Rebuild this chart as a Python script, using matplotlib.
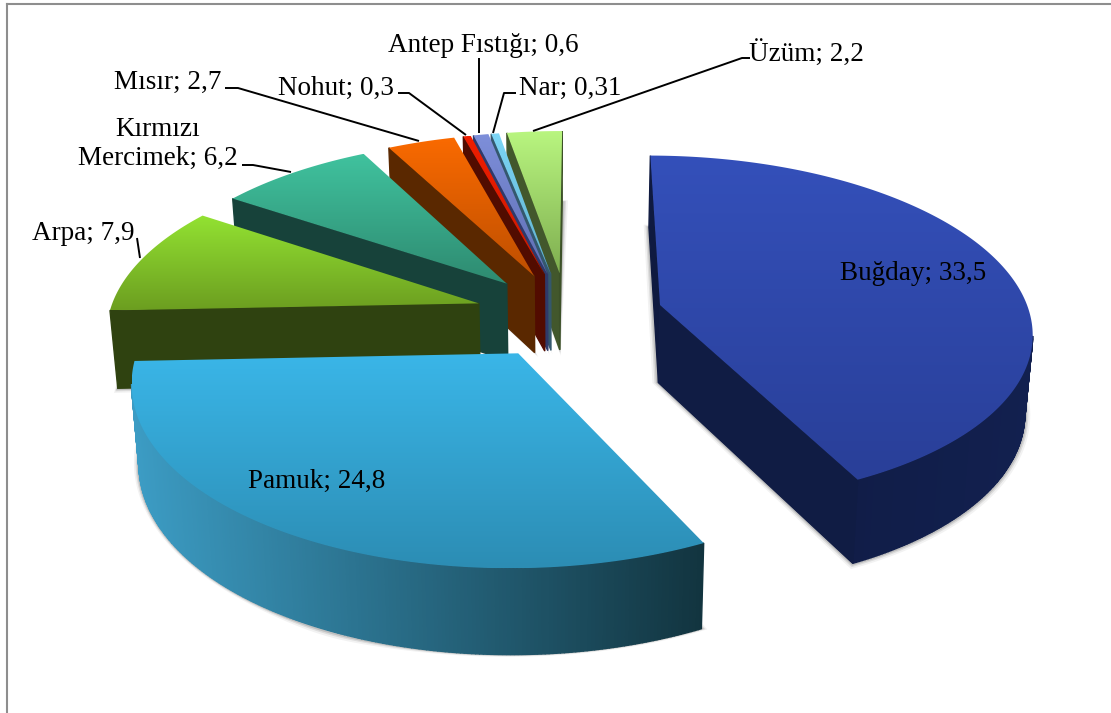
import numpy as np
import matplotlib
matplotlib.use("Agg")
import matplotlib.pyplot as plt
from matplotlib.colors import LinearSegmentedColormap, to_rgb
from matplotlib.patches import Polygon

plt.rcParams["font.family"] = ["Liberation Serif", "DejaVu Serif"]

# data
crops = ["Buğday", "Pamuk", "Arpa", "Mercimek", "Mısır", "Nohut", "Antep Fıstığı", "Nar", "Üzüm"]
shares = [33.5, 24.8, 7.9, 6.2, 2.7, 0.3, 0.6, 0.31, 2.2]

# styles, one entry per slice
explode = [0.26, 0.25, 0.25, 0.25, 0.25, 0.25, 0.25, 0.25, 0.25]
top_colors = [("#3450BA", "#293F98"), ("#3AB6E8", "#2C8DB4"), ("#93E232", "#6C9E20"),
              ("#40C29E", "#2E8A70"), ("#FA6A00", "#BE4F00"), ("#F01E00", "#C81800"),
              ("#7E8FDA", "#5F6FB4"), ("#7CD6F6", "#5FB0CC"), ("#B9F680", "#7FAE50")]
wall_colors = [("#0F1A40", "#12204F"), ("#3C9CC4", "#12343F"), ("#2F4210", "#2F4210"),
               ("#17423A", "#17423A"), ("#5F2B00", "#552500"), ("#5A0E00", "#4A0A00"),
               ("#2F3A6A", "#2F3A6A"), ("#34586E", "#34586E"), ("#485E30", "#3C5028")]

# label text anchors (px) and leader lines
label_pos = [(913, 274), (317, 481), (83, 233), (158, 144), (168, 82),
             (336, 88), (483, 46), (570, 88), (806, 53)]
leaders = [None, None,
           [(137, 238), (140, 258)],
           [(242, 165), (253, 165), (291, 172)],
           [(225, 88), (238, 88), (419, 141)],
           [(398, 93), (409, 93), (466, 135)],
           [(479, 58), (479, 133)],
           [(516, 93), (504, 93), (493, 133)],
           [(750, 58), (742, 58), (533, 131)]]

# projection of the tilted disc
cx, cy = 567, 315
ax_x, ax_y = 370, 173
persp = 0.14
depth = 78
depth_persp = 0.08
shrink = 0.983
rotation = 0.3


def project(x, y):
    w = 1 + persp * y
    return cx + ax_x * x / w, cy - ax_y * y / w


def drop(px, py, y):
    # same point on the bottom plane of the pie
    return cx + (px - cx) * shrink, py + depth / (1 + depth_persp * y)


def mix(c1, c2, t):
    a, b = np.array(to_rgb(c1)), np.array(to_rgb(c2))
    return tuple(a + (b - a) * t)


fig = plt.figure(figsize=(11.11, 7.13), dpi=100)
ax = fig.add_axes([0, 0, 1, 1])
ax.set_axis_off()

ax.plot([6.5, 6.5], [4, 713], color="#8E8E8E", lw=1.5, zorder=1)
ax.plot([6.5, 1111], [4, 4], color="#8E8E8E", lw=1.5, zorder=1)

edges = np.concatenate([[0], np.cumsum(shares)]) / sum(shares) * 360 + rotation
order = [8, 7, 6, 5, 4, 3, 2, 1, 0]

z = 2
for i in order:
    t0, t1 = np.radians(edges[i]), np.radians(edges[i + 1])
    mid = (t0 + t1) / 2
    ex, ey = explode[i] * np.sin(mid), explode[i] * np.cos(mid)
    th = np.linspace(t0, t1, max(int(np.degrees(t1 - t0) * 2), 2))
    xs = np.concatenate([[ex], ex + np.sin(th)])
    ys = np.concatenate([[ey], ey + np.cos(th)])
    px, py = project(xs, ys)
    bx, by = drop(px, py, ys)

    # soft shadow from the bottom face
    bc = np.array([bx.mean(), by.mean()])
    for grow, alpha in [(6, 0.05), (4, 0.09), (2.5, 0.13)]:
        pts = np.column_stack([bx, by])
        v = pts - bc
        n = np.maximum(np.linalg.norm(v, axis=1, keepdims=True), 1)
        ax.add_patch(Polygon(pts + v / n * grow, closed=True, fc="black", ec="none",
                             alpha=alpha, zorder=z))
    z += 1

    # side walls, only the ones facing the viewer
    wall_x0, wall_x1 = px.min(), px.max()
    n_pts = len(px)
    for k in range(n_pts):
        j = (k + 1) % n_pts
        if px[j] - px[k] >= 0:
            continue
        t = ((px[k] + px[j]) / 2 - wall_x0) / max(wall_x1 - wall_x0, 1)
        col = mix(wall_colors[i][0], wall_colors[i][1], t)
        quad = [(px[k], py[k]), (px[j], py[j]), (bx[j], by[j]), (bx[k], by[k])]
        ax.add_patch(Polygon(quad, closed=True, fc=col, ec=col, lw=1.0, zorder=z))
    z += 1

    # top face with vertical gradient
    cmap = LinearSegmentedColormap.from_list("f%d" % i, top_colors[i])
    grad = np.linspace(0, 1, 256).reshape(-1, 1)
    im = ax.imshow(grad, cmap=cmap, aspect="auto", zorder=z, interpolation="bilinear",
                   extent=(px.min(), px.max(), py.max(), py.min()))
    clip = Polygon(np.column_stack([px, py]), closed=True, transform=ax.transData,
                   fc="none", ec="none")
    ax.add_patch(clip)
    im.set_clip_path(clip)
    z += 1

ax.set_xlim(0, 1111)
ax.set_ylim(713, 0)

for i, name in enumerate(crops):
    val = str(shares[i]).replace(".", ",")
    name = "Kırmızı\n" + name if name == "Mercimek" else name
    ax.text(label_pos[i][0], label_pos[i][1], "%s; %s" % (name, val), ha="center",
            va="center", fontsize=19.5, color="black", zorder=50, linespacing=1.25)
    if leaders[i]:
        lx, ly = zip(*leaders[i])
        ax.plot(lx, ly, color="black", lw=1.4, zorder=49, solid_capstyle="butt")

fig.savefig("out.png", dpi=100)
plt.close(fig)
